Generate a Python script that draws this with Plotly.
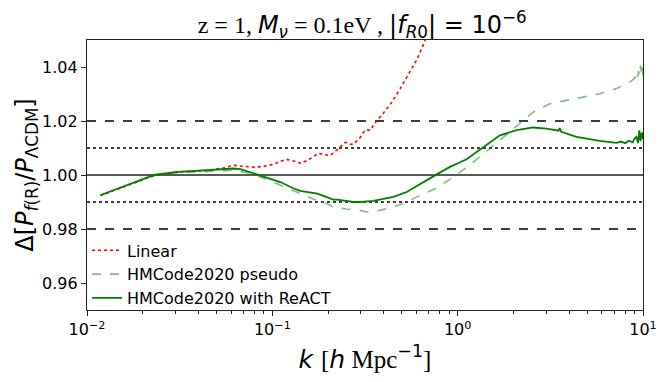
import plotly.graph_objects as go

# Linear theory ratio
k_lin = [0.0118, 0.015, 0.019, 0.0234, 0.03, 0.0435, 0.055, 0.062, 0.07, 0.08,
         0.09, 0.102, 0.11, 0.119, 0.13, 0.143, 0.16, 0.177, 0.19, 0.205,
         0.225, 0.247, 0.263, 0.274, 0.298, 0.317, 0.337, 0.358, 0.397, 0.441,
         0.489, 0.542, 0.601, 0.658, 0.675]
r_lin = [0.9924, 0.9951, 0.9979, 1.0, 1.0011, 1.0016, 1.0027, 1.0036, 1.0032, 1.0029,
         1.0032, 1.004, 1.005, 1.0058, 1.0052, 1.0043, 1.006, 1.008, 1.0076, 1.0072,
         1.0095, 1.0121, 1.0114, 1.0114, 1.0139, 1.0167, 1.0166, 1.0192, 1.0229, 1.0269,
         1.0319, 1.037, 1.0426, 1.0488, 1.051]

# HMCode2020 pseudo
k_pseudo = [0.0118, 0.015, 0.019, 0.023, 0.03, 0.0463, 0.0618, 0.072, 0.086, 0.1,
            0.1305, 0.1413, 0.165, 0.197, 0.2137, 0.25, 0.2976, 0.3234, 0.38, 0.4497,
            0.52, 0.6013, 0.75, 0.909, 1.1, 1.374, 1.69, 2.079, 2.555, 3.143,
            3.867, 4.75, 5.845, 7.19, 7.6, 8.0, 8.479, 8.8, 9.1, 9.3,
            9.45, 9.6, 9.7, 9.8, 9.9, 10.0]
r_pseudo = [0.9925, 0.9951, 0.9978, 0.9997, 1.0008, 1.0015, 1.0017, 1.0009, 0.9993, 0.9975,
            0.9943, 0.9931, 0.9912, 0.9894, 0.9881, 0.9874, 0.9869, 0.9863, 0.9869, 0.9881,
            0.9897, 0.9919, 0.9948, 0.9984, 1.0025, 1.0077, 1.0129, 1.0184, 1.0233, 1.0264,
            1.0277, 1.0289, 1.0301, 1.032, 1.0328, 1.0335, 1.0344, 1.0352, 1.0362, 1.0345,
            1.0385, 1.0368, 1.0406, 1.0372, 1.0398, 1.0365]

# HMCode2020 with ReACT
k_react = [0.0118, 0.015, 0.019, 0.023, 0.03, 0.0435, 0.0618, 0.0672, 0.0829, 0.1103,
           0.1297, 0.1413, 0.1746, 0.2137, 0.2237, 0.274, 0.2976, 0.351, 0.4497, 0.531,
           0.7387, 0.9088, 1.118, 1.32, 1.69, 2.079, 2.555, 3.017, 3.5, 3.557,
           3.62, 4.377, 5.845, 7.19, 7.6, 8.0, 8.4, 8.8, 9.0, 9.21,
           9.4, 9.55, 9.7, 9.85, 10.0]
r_react = [0.9925, 0.9952, 0.9979, 1.0, 1.0011, 1.0017, 1.0024, 1.0022, 1.0001, 0.9974,
           0.9951, 0.9941, 0.9931, 0.9909, 0.9909, 0.99, 0.99, 0.9904, 0.9919, 0.9937,
           0.9995, 1.003, 1.0058, 1.0094, 1.0147, 1.0166, 1.0176, 1.0172, 1.0164, 1.0174,
           1.016, 1.0141, 1.0126, 1.0119, 1.0124, 1.0118, 1.0127, 1.0121, 1.0135, 1.0141,
           1.0118, 1.0165, 1.0125, 1.0158, 1.0132]

fig = go.Figure()

fig.add_trace(go.Scatter(
    x=k_lin, y=r_lin, mode="lines", name="Linear",
    line=dict(color="red", width=1.6, dash="dot"),
))
fig.add_trace(go.Scatter(
    x=k_pseudo, y=r_pseudo, mode="lines", name="HMCode2020 pseudo",
    line=dict(color="rgba(0,128,0,0.5)", width=1.6, dash="dash"),
))
fig.add_trace(go.Scatter(
    x=k_react, y=r_react, mode="lines", name="HMCode2020 with ReACT",
    line=dict(color="green", width=1.8),
))

# reference levels
for yv, dash in [(1.0, "solid"), (1.02, "dash"), (0.98, "dash"), (1.01, "dot"), (0.99, "dot")]:
    fig.add_shape(type="line", xref="paper", yref="y", x0=0, x1=1, y0=yv, y1=yv,
                  line=dict(color="#222" if dash == "solid" else "black", width=1.6, dash=dash),
                  layer="below")

minor_vals = [m * 10 ** e for e in (-2, -1, 0) for m in range(2, 10)]

serif = "font-family:'Liberation Serif'"
title = (f"<span style=\"{serif}\">z = 1, </span><i>M</i><sub><i>ν</i></sub>"
         f"<span style=\"{serif}\"> = 0.1eV , </span>|<i>f</i><sub><i>R</i>0</sub>| = 10<sup>−6</sup>")

# page body has an 8px margin, so the figure is sized to fit inside the window
fig.update_layout(
    width=651,
    height=366,
    paper_bgcolor="white",
    plot_bgcolor="white",
    margin=dict(l=79, r=16, t=32, b=64),
    font=dict(family="DejaVu Sans", size=16, color="black"),
    title=dict(text=title, xref="paper", x=0.495, xanchor="center",
               yref="container", y=0.955, yanchor="middle",
               font=dict(size=24, family="DejaVu Sans")),
    xaxis=dict(
        type="log", range=[-2, 1], automargin=False,
        tickvals=[0.01, 0.1, 1, 10],
        ticktext=["10<sup>−2</sup>", "10<sup>−1</sup>", "10<sup>0</sup>", "10<sup>1</sup>"],
        ticks="outside", ticklen=5, tickcolor="#222",
        minor=dict(tickvals=minor_vals, ticks="outside", ticklen=3, tickcolor="#222"),
        showline=True, mirror=True, linecolor="#222", linewidth=1.2,
        showgrid=False, zeroline=False,
        title=dict(text=f"<i>k</i> <span style=\"{serif}\">[</span><i>h</i>"
                        f"<span style=\"{serif}\"> Mpc</span><sup>−1</sup><span style=\"{serif}\">]</span>",
                   font=dict(size=25), standoff=15),
    ),
    yaxis=dict(
        range=[0.95, 1.05], automargin=False,
        tickvals=[0.96, 0.98, 1.0, 1.02, 1.04],
        tickformat=".2f",
        ticks="outside", ticklen=5, tickcolor="#222",
        showline=True, mirror=True, linecolor="#222", linewidth=1.2,
        showgrid=False, zeroline=False,
        title=dict(text="Δ[<i>P</i><sub><i>f</i>(R)</sub>/<i>P</i><sub>ΛCDM</sub>]",
                   font=dict(size=24), standoff=0),
    ),
    legend=dict(
        x=0.0, y=-0.02, xanchor="left", yanchor="bottom",
        bgcolor="rgba(0,0,0,0)", font=dict(size=16),
    ),
)

fig.write_html("out.html")
